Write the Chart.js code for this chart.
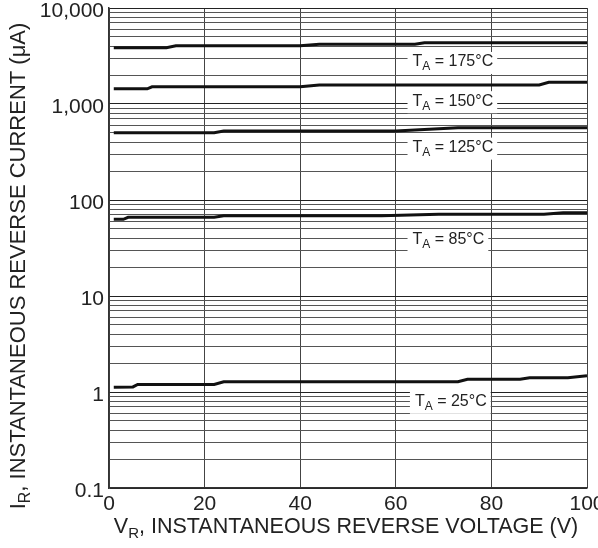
<!DOCTYPE html>
<html>
<head>
<meta charset="utf-8">
<script src="https://cdn.jsdelivr.net/npm/chart.js@4/dist/chart.umd.min.js"></script>
<style>
  html, body { margin: 0; padding: 0; background: #fff; }
</style>
</head>
<body>
<canvas id="chart" width="598" height="548"></canvas>
<script>
// reverse current vs reverse voltage, one pair of arrays per temperature
const volts175 = [1, 12, 14, 40, 44, 64, 66, 100];
const amps175 = [3860, 3860, 4050, 4050, 4190, 4190, 4350, 4350];

const volts150 = [1, 8, 9, 40, 44, 90, 92, 100];
const amps150 = [1440, 1440, 1510, 1510, 1580, 1580, 1680, 1680];

const volts125 = [1, 22, 24, 60, 73, 100];
const amps125 = [502, 502, 523, 523, 566, 566];

const volts85 = [1, 3, 4, 22, 24, 57, 69, 91, 95, 100];
const amps85 = [62.9, 62.9, 66, 66, 68.6, 68.6, 70.9, 70.9, 73.7, 73.7];

const volts25 = [1, 5, 6, 22, 24, 73, 75, 86, 88, 96, 100];
const amps25 = [1.12, 1.13, 1.2, 1.2, 1.28, 1.28, 1.36, 1.36, 1.41, 1.41, 1.48];

const curveNames = ['175°C', '150°C', '125°C', '85°C', '25°C'];
// label anchor (left edge of text, vertical centre) in data units
const labelVolts = [63.5, 63.5, 63.5, 63.5, 64];
const labelAmps = [2740, 1070, 351, 38.5, 0.79];

const xTicks = [0, 20, 40, 60, 80, 100];
const majorTicks = [0.1, 1, 10, 100, 1000, 10000];
const majorLabels = ['0.1', '1', '10', '100', '1,000', '10,000'];
const minorSteps = [1, 2, 3, 4, 5, 6, 7, 8, 9];

const FONT = '"Liberation Sans", Arial, sans-serif';

function pairs(xs, ys) {
  return xs.map((x, i) => ({ x: x, y: ys[i] }));
}

const gridValues = [];
majorTicks.slice(0, -1).forEach(d => {
  minorSteps.forEach(m => gridValues.push(+(d * m).toPrecision(3)));
});
gridValues.push(10000);

function textRun(ctx, x, y, main, sub, rest, size) {
  // draws main + subscript + rest starting at x, baseline-middle at y
  ctx.font = size + 'px ' + FONT;
  ctx.fillText(main, x, y);
  let w = ctx.measureText(main).width;
  ctx.font = Math.round(size * 0.72) + 'px ' + FONT;
  ctx.fillText(sub, x + w, y + size * 0.32);
  w += ctx.measureText(sub).width;
  ctx.font = size + 'px ' + FONT;
  ctx.fillText(rest, x + w, y);
  return w + ctx.measureText(rest).width;
}

function runWidth(ctx, main, sub, rest, size) {
  ctx.font = size + 'px ' + FONT;
  let w = ctx.measureText(main).width + ctx.measureText(rest).width;
  ctx.font = Math.round(size * 0.72) + 'px ' + FONT;
  return w + ctx.measureText(sub).width;
}

const annotations = {
  id: 'annotations',
  afterDatasetsDraw(chart) {
    const ctx = chart.ctx;
    const xs = chart.scales.x, ys = chart.scales.y;
    ctx.save();
    ctx.textBaseline = 'middle';
    ctx.textAlign = 'left';
    curveNames.forEach((name, i) => {
      const px = xs.getPixelForValue(labelVolts[i]);
      const py = ys.getPixelForValue(labelAmps[i]);
      const rest = ' = ' + name;
      const w = runWidth(ctx, 'T', 'A', rest, 16);
      ctx.fillStyle = '#fff';
      ctx.fillRect(px - 5, py - 10, w + 9, 22);
      ctx.fillStyle = '#222';
      textRun(ctx, px, py, 'T', 'A', rest, 16);
    });
    ctx.restore();
  },
  afterDraw(chart) {
    const ctx = chart.ctx;
    const area = chart.chartArea;
    ctx.save();
    ctx.fillStyle = '#222';
    ctx.textBaseline = 'middle';
    ctx.textAlign = 'left';
    // x axis title
    let rest = ', INSTANTANEOUS REVERSE VOLTAGE (V)';
    let w = runWidth(ctx, 'V', 'R', rest, 21.5);
    textRun(ctx, 346 - w / 2, 527, 'V', 'R', rest, 21.5);
    // y axis title
    rest = ', INSTANTANEOUS REVERSE CURRENT (\u03bcA)';
    w = runWidth(ctx, 'I', 'R', rest, 22);
    ctx.translate(19, 266);
    ctx.rotate(-Math.PI / 2);
    textRun(ctx, -w / 2, 0, 'I', 'R', rest, 22);
    ctx.restore();
  }
};

const lineStyle = {
  borderColor: '#111',
  borderWidth: 3,
  pointRadius: 0,
  tension: 0,
  fill: false
};

new Chart(document.getElementById('chart'), {
  type: 'line',
  data: {
    datasets: [
      Object.assign({ label: curveNames[0], data: pairs(volts175, amps175) }, lineStyle),
      Object.assign({ label: curveNames[1], data: pairs(volts150, amps150) }, lineStyle),
      Object.assign({ label: curveNames[2], data: pairs(volts125, amps125) }, lineStyle),
      Object.assign({ label: curveNames[3], data: pairs(volts85, amps85) }, lineStyle),
      Object.assign({ label: curveNames[4], data: pairs(volts25, amps25) }, lineStyle)
    ]
  },
  options: {
    responsive: false,
    animation: false,
    layout: { padding: { left: 0, right: 11, top: 8, bottom: 0 } },
    plugins: { legend: { display: false }, tooltip: { enabled: false } },
    scales: {
      x: {
        type: 'linear',
        min: 0,
        max: 100,
        afterBuildTicks: scale => { scale.ticks = xTicks.map(v => ({ value: v })); },
        afterFit: scale => {
          scale.height = 60;
          scale.paddingLeft = 0;
          scale.paddingRight = 0;
        },
        grid: { color: '#444', lineWidth: 1, drawTicks: false },
        border: { color: '#333', width: 1.5 },
        ticks: {
          color: '#222',
          padding: 4,
          maxRotation: 0,
          autoSkip: false,
          font: { family: FONT, size: 21 }
        }
      },
      y: {
        type: 'logarithmic',
        min: 0.1,
        max: 10000,
        afterBuildTicks: scale => { scale.ticks = gridValues.map(v => ({ value: v })); },
        afterFit: scale => {
          scale.width = 109;
          scale.paddingTop = 0;
          scale.paddingBottom = 0;
        },
        grid: {
          color: c => (majorTicks.indexOf(c.tick && c.tick.value) >= 0 ? '#222' : '#555'),
          lineWidth: 1,
          drawTicks: false
        },
        border: { color: '#333', width: 1.5 },
        ticks: {
          color: '#222',
          padding: 5,
          labelOffset: 3,
          autoSkip: false,
          font: { family: FONT, size: 21 },
          callback: v => {
            const k = majorTicks.indexOf(v);
            return k >= 0 ? majorLabels[k] : '';
          }
        }
      }
    }
  },
  plugins: [annotations]
});
</script>
</body>
</html>
